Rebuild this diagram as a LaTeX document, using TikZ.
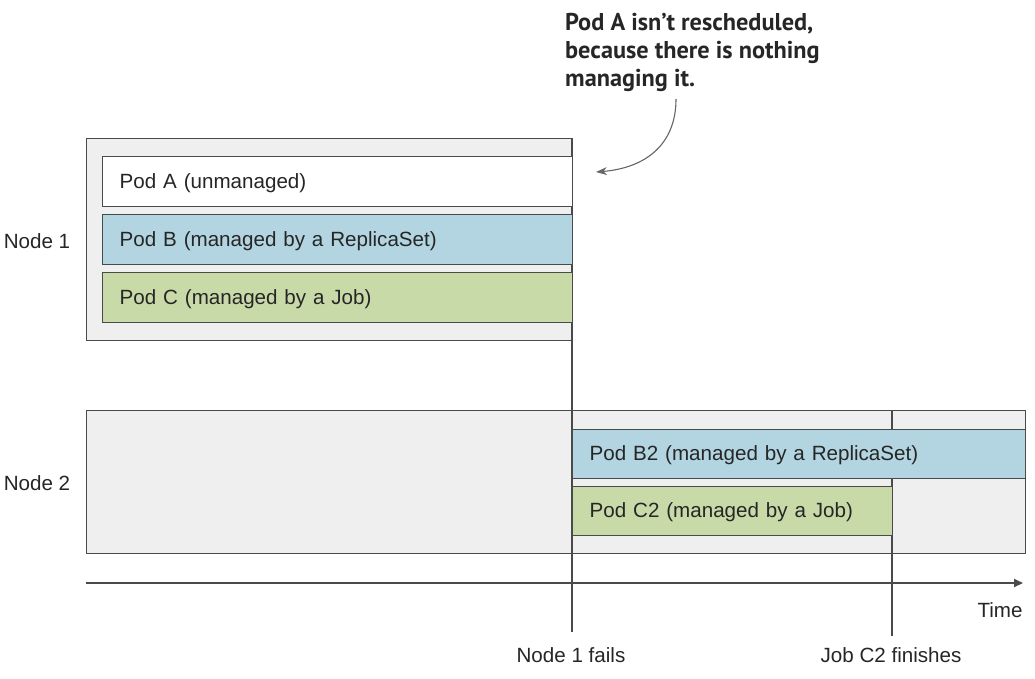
\documentclass[tikz,border=0pt]{standalone}
\usepackage{fontspec}
\setmainfont{Liberation Sans}
\newfontfamily\notefont{PT Sans}
\usetikzlibrary{arrows.meta}
\definecolor{nodegray}{HTML}{EFEFEF}
\definecolor{podblue}{HTML}{B2D5E1}
\definecolor{podgreen}{HTML}{C9DAA9}
\definecolor{edge}{HTML}{4A4A4A}
\tikzset{
  x=1pt, y=-1pt,
  nodebox/.style={draw=edge, line width=1.3pt, fill=nodegray, anchor=north west, inner sep=0pt},
  podbox/.style={draw=edge, line width=1.3pt, anchor=north west, inner ysep=0pt, inner xsep=17pt,
                 align=left, font=\fontsize{20.6}{23}\selectfont, text=black!85, text depth=2pt},
  lbl/.style={font=\fontsize{20.6}{23}\selectfont, text=black!85, inner sep=0pt},
  marker/.style={draw=edge, line width=1.1pt},
}
\begin{document}
\begin{tikzpicture}
\useasboundingbox[fill=white] (0,0) rectangle (1035,678);
% Node boxes
\node[nodebox, minimum width=486pt, minimum height=202pt] (n1) at (86,138) {};
\node[nodebox, minimum width=939pt, minimum height=143pt] (n2) at (86,410) {};
% Event markers
\coordinate (f1) at (572,138);
\coordinate (f2) at (572,632);
\coordinate (j1) at (892,410);
\coordinate (j2) at (892,636);
\draw[marker] (f1) -- (f2);
\draw[marker] (j1) -- (j2);
% Pods on node 1
\node[podbox, fill=white, minimum width=470pt, minimum height=50pt, text width=436pt] (pa) at (102,156) {Pod A (unmanaged)};
\node[podbox, fill=podblue, minimum width=470pt, minimum height=50pt, text width=436pt] (pb) at (102,214) {Pod B (managed by a ReplicaSet)};
\node[podbox, fill=podgreen, minimum width=470pt, minimum height=50pt, text width=436pt] (pc) at (102,272) {Pod C (managed by a Job)};
% Pods on node 2
\node[podbox, fill=podblue, minimum width=453pt, minimum height=49pt, text width=419pt] (pb2) at (572,429) {Pod B2 (managed by a ReplicaSet)};
\node[podbox, fill=podgreen, minimum width=320pt, minimum height=49pt, text width=286pt] (pc2) at (572,486) {Pod C2 (managed by a Job)};
% Node labels
\node[lbl] (l1) at (37,241) {Node 1};
\node[lbl] (l2) at (37,483) {Node 2};
% Time axis
\coordinate (t0) at (86,583);
\coordinate (t1) at (1023,583);
\draw[edge, line width=1.8pt, -{Triangle[length=9pt,width=8pt]}] (t0) -- (t1);
\node[lbl] (time) at (1000,610) {Time};
\node[lbl] (ev1) at (571,655) {Node 1 fails};
\node[lbl] (ev2) at (891,655) {Job C2 finishes};
% Annotation
\node[anchor=north west, align=left, inner sep=0pt, font=\notefont\bfseries\fontsize{24.3}{28}\selectfont, text=black!85] (note) at (565,13)
  {Pod A isn’t rescheduled,\\because there is nothing\\managing it.};
\coordinate (tipA) at (596,172);
\draw[black!60, line width=1.1pt, -{Stealth[length=11pt,width=8pt]}] (676,99) .. controls (676,145) and (645,168) .. (tipA);
\end{tikzpicture}
\end{document}
